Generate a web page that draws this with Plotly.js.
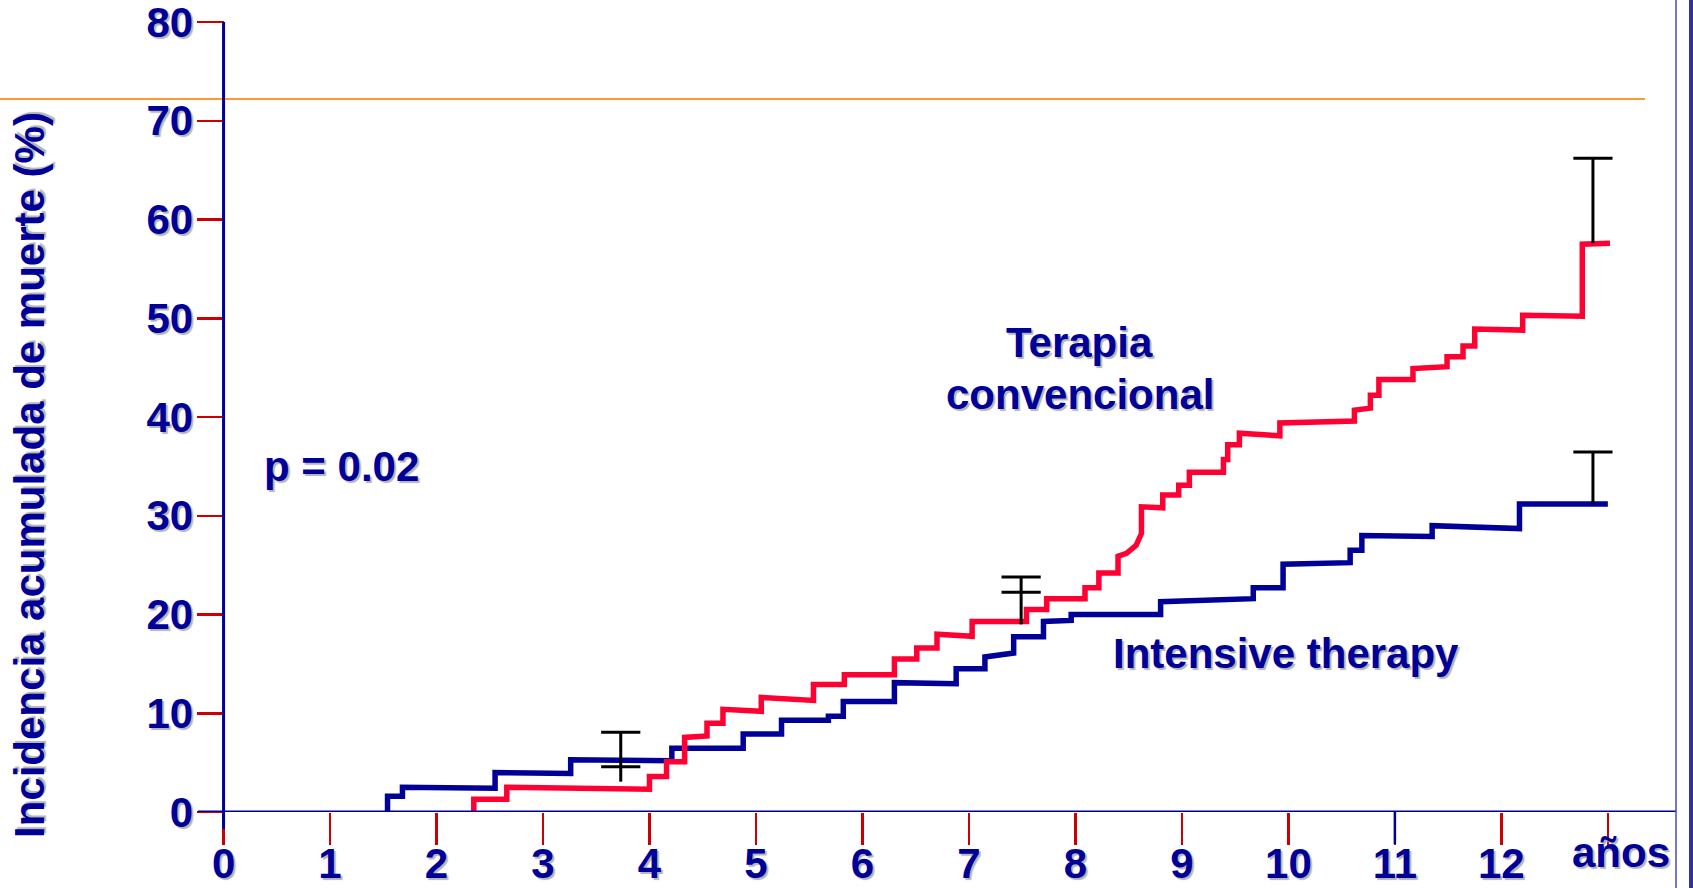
<!DOCTYPE html>
<html>
<head>
<meta charset="utf-8">
<script src="https://cdn.plot.ly/plotly-3.0.1.min.js"></script>
<style>html,body{margin:0;padding:0;background:#fff;}#chart{width:1693px;height:888px;}</style>
</head>
<body>
<div id="chart"></div>
<script>
// ---- data ----
const xTickVals = [0,1,2,3,4,5,6,7,8,9,10,11,12,13];
const xTickText = ['0','1','2','3','4','5','6','7','8','9','10','11','12',''];
const yTickVals = [0,10,20,30,40,50,60,70,80];

// Intensive therapy (blue) cumulative incidence curve
const intensiveX = [1.54,1.54,1.68,1.68,2.55,2.55,3.26,3.26,4.21,4.21,4.88,4.88,5.24,5.24,5.68,5.68,5.82,5.82,6.30,6.30,6.88,6.88,7.15,7.15,7.42,7.42,7.70,7.70,7.96,7.96,8.80,8.80,9.67,9.67,9.95,9.95,10.58,10.58,10.69,10.69,11.35,11.35,12.17,12.17,13.0];
const intensiveY = [0,1.6,1.6,2.5,2.4,4.0,3.9,5.3,5.2,6.45,6.45,7.9,7.9,9.3,9.3,9.7,9.7,11.2,11.2,13.1,13.0,14.5,14.5,15.7,16.1,17.75,17.75,19.3,19.4,20.0,20.0,21.3,21.6,22.7,22.7,25.1,25.25,26.5,26.5,28.0,27.9,29.0,28.7,31.2,31.2];

// Terapia convencional (red) cumulative incidence curve
const conventionalX = [2.35,2.35,2.66,2.66,4.0,4.0,4.16,4.16,4.33,4.33,4.54,4.54,4.69,4.69,5.05,5.05,5.54,5.54,5.83,5.83,6.30,6.30,6.51,6.51,6.70,6.70,7.03,7.03,7.54,7.54,7.73,7.73,8.09,8.09,8.22,8.22,8.40,8.40,8.48,8.57,8.62,8.62,8.82,8.82,8.97,8.97,9.07,9.07,9.39,9.39,9.43,9.43,9.54,9.54,9.92,9.92,10.62,10.62,10.77,10.77,10.85,10.85,11.17,11.17,11.49,11.49,11.64,11.64,11.75,11.75,12.2,12.2,12.76,12.76,13.02];
const conventionalY = [0,1.3,1.3,2.5,2.3,3.6,3.6,5.1,5.1,7.55,7.7,9.0,9.0,10.4,10.2,11.6,11.3,12.9,12.9,13.9,13.9,15.5,15.5,16.6,16.6,18.0,17.8,19.3,19.3,20.5,20.5,21.6,21.6,22.7,22.7,24.2,24.2,25.9,26.2,27.0,28.2,30.9,30.8,32.1,32.1,33.1,33.1,34.4,34.4,35.7,35.7,37.2,37.2,38.35,38.1,39.4,39.6,40.7,40.9,42.2,42.2,43.8,43.8,44.9,45.1,46.1,46.1,47.2,47.2,48.9,48.8,50.3,50.2,57.5,57.6];

// error bars: x position, low end, high end, cap levels
const errX = [3.73, 7.49, 12.86, 12.86];
const errLow = [3.07, 19.0, 57.6, 31.2];
const errHigh = [8.07, 23.8, 66.2, 36.45];
const errCaps = [[8.07, 4.59], [23.8, 22.25], [66.2], [36.45]];

const referenceLineY = 72.2;

// ---- styles ----
const NAVY = '#000099';
const RED = '#ff0033';
const TICKRED = '#cc0000';
const FONT = 'Liberation Sans, Arial, sans-serif';
const SHADOW = '2px 2px 1px #b4b4b4';
const txtFont = {family: FONT, size: 42, color: NAVY, weight: 'bold', shadow: SHADOW};

// build error-bar geometry from the data arrays
const errLineX = [], errLineY = [], capX = [], capY = [];
errX.forEach((x, i) => {
  errLineX.push(x, x, null);
  errLineY.push(errLow[i], errHigh[i], null);
  errCaps[i].forEach(c => { capX.push(x); capY.push(c); });
});

const traces = [
  {x: intensiveX, y: intensiveY, mode: 'lines', line: {color: NAVY, width: 5.5, shape: 'linear'}, hoverinfo: 'skip'},
  {x: conventionalX, y: conventionalY, mode: 'lines', line: {color: RED, width: 5.5, shape: 'linear'}, hoverinfo: 'skip'},
  {x: errLineX, y: errLineY, mode: 'lines', line: {color: '#000', width: 3}, hoverinfo: 'skip'},
  {x: capX, y: capY, mode: 'markers', marker: {symbol: 'line-ew', size: 28, line: {color: '#000', width: 3}}, hoverinfo: 'skip', cliponaxis: false}
];

const L = 198, R = 17, T = 22, B = 76;
const plotW = 1693 - L - R, plotH = 888 - T - B;
const xMin = -0.24, xMax = 13.64;
const yAxisPos = (0 - xMin) / (xMax - xMin);

const layout = {
  width: 1693, height: 888,
  margin: {l: L, r: R, t: T, b: B, pad: 0},
  paper_bgcolor: '#fff', plot_bgcolor: '#fff',
  showlegend: false,
  xaxis: {
    range: [xMin, xMax], showgrid: false, zeroline: false, showline: false,
    tickmode: 'array', tickvals: xTickVals, ticktext: xTickText,
    ticks: 'outside', ticklen: 32, tickwidth: 2.5, tickcolor: TICKRED,
    tickfont: txtFont, ticklabelstandoff: -17, ticklabeloverflow: 'allow', fixedrange: true
  },
  yaxis: {
    range: [0, 80], showgrid: false, zeroline: false, showline: false,
    anchor: 'free', position: yAxisPos,
    tickmode: 'array', tickvals: yTickVals,
    ticks: 'outside', ticklen: 27, tickwidth: 2.5, tickcolor: TICKRED,
    tickfont: txtFont, ticklabelstandoff: -5, ticklabeloverflow: 'allow', fixedrange: true
  },
  shapes: [
    // orange reference line
    {type: 'line', xref: 'paper', yref: 'y', x0: -L / plotW, x1: (1645 - L) / plotW, y0: referenceLineY, y1: referenceLineY, line: {color: '#ff9933', width: 2}},
    // x axis line
    {type: 'line', xref: 'paper', yref: 'y', x0: 0, x1: 1, y0: 0, y1: 0, line: {color: NAVY, width: 3}},
    // y axis line
    {type: 'line', xref: 'x', yref: 'paper', x0: 0, x1: 0, y0: -17 / plotH, y1: 1, line: {color: NAVY, width: 3}},
    // blue tick at 11
    {type: 'line', xref: 'x', yref: 'paper', x0: 11, x1: 11, y0: -32 / plotH, y1: 0, line: {color: NAVY, width: 2.5}},
    // slide border lines at right
    {type: 'line', xref: 'paper', yref: 'paper', x0: 1, x1: 1, y0: -0.2, y1: 1.2, line: {color: '#4a4aa8', width: 1.5}},
    {type: 'line', xref: 'paper', yref: 'paper', x0: (1691 - L) / plotW, x1: (1691 - L) / plotW, y0: -0.2, y1: 1.2, line: {color: '#333399', width: 4}}
  ],
  annotations: [
    {text: 'Incidencia acumulada de muerte (%)', xref: 'paper', yref: 'paper', x: (30 - L) / plotW, y: (812 - 475) / plotH, textangle: -90, showarrow: false, xanchor: 'center', yanchor: 'middle', font: txtFont},
    {text: 'p = 0.02', xref: 'x', yref: 'y', x: 1.11, y: 35.0, showarrow: false, xanchor: 'center', yanchor: 'middle', font: txtFont},
    {text: 'Terapia', xref: 'x', yref: 'y', x: 8.04, y: 47.5, showarrow: false, xanchor: 'center', yanchor: 'middle', font: txtFont},
    {text: 'convencional', xref: 'x', yref: 'y', x: 8.04, y: 42.3, showarrow: false, xanchor: 'center', yanchor: 'middle', font: txtFont},
    {text: 'Intensive therapy', xref: 'x', yref: 'y', x: 9.98, y: 16.1, showarrow: false, xanchor: 'center', yanchor: 'middle', font: txtFont},
    {text: 'años', xref: 'x', yref: 'paper', x: 13.12, y: (812 - 852) / plotH, showarrow: false, xanchor: 'center', yanchor: 'middle', font: txtFont}
  ]
};

Plotly.newPlot('chart', traces, layout, {displayModeBar: false, staticPlot: true});
</script>
</body>
</html>
